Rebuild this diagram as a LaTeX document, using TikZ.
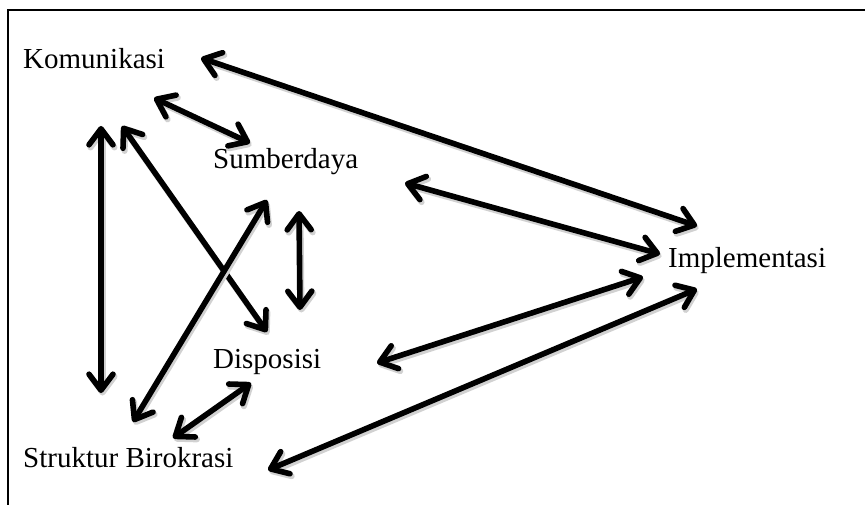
\documentclass[tikz,border=0pt]{standalone}
\usepackage{fontspec}
\setmainfont{Liberation Serif}
\usetikzlibrary{arrows.meta}
\begin{document}
\begin{tikzpicture}[x=1pt,y=-1pt,
  lbl/.style={anchor=base west, inner sep=0pt, font=\fontsize{29}{34}\selectfont},
  frameline/.style={line width=2.4pt},
  link/.style={line width=5.6pt,
    {Straight Barb[length=16pt,width=24pt,round]}-{Straight Barb[length=16pt,width=24pt,round]},
    preaction={draw=black!18, line width=6pt, transform canvas={shift={(1.5pt,-2.5pt)}}}}
]
\useasboundingbox (0,0) rectangle (865,505);
\draw[frameline] (7,10) -- (865,10);
\draw[frameline] (8,10) -- (8,505);

\node[lbl] (kom) at (23,69) {Komunikasi};
\node[lbl] (sum) at (213,169) {Sumberdaya};
\node[lbl] (imp) at (668,267) {Implementasi};
\node[lbl] (dis) at (213,368) {Disposisi};
\node[lbl] (str) at (23,467) {Struktur Birokrasi};

\coordinate (k1) at (201,58);   \coordinate (i1) at (697,226);
\coordinate (k2) at (154,98);   \coordinate (s1) at (250,143);
\coordinate (v1) at (101,126);  \coordinate (v2) at (101,393);
\coordinate (k3) at (122,126);  \coordinate (d1) at (267,332);
\coordinate (s2) at (267,200);  \coordinate (t1) at (133,422);
\coordinate (s3) at (299,211);  \coordinate (d2) at (300,310);
\coordinate (s4) at (405,183);  \coordinate (i2) at (660,254);
\coordinate (d3) at (377,363);  \coordinate (i3) at (643,277);
\coordinate (d4) at (251,383);  \coordinate (t2) at (173,438);
\coordinate (t3) at (268,470);  \coordinate (i4) at (697,289);

\draw[link] (k1) -- (i1);
\draw[link] (k2) -- (s1);
\draw[link] (v1) -- (v2);
\draw[link] (k3) -- (d1);
\draw[link] (s2) -- (t1);
\draw[link] (s3) -- (d2);
\draw[link] (s4) -- (i2);
\draw[link] (d3) -- (i3);
\draw[link] (d4) -- (t2);
\draw[link] (t3) -- (i4);
\end{tikzpicture}
\end{document}
